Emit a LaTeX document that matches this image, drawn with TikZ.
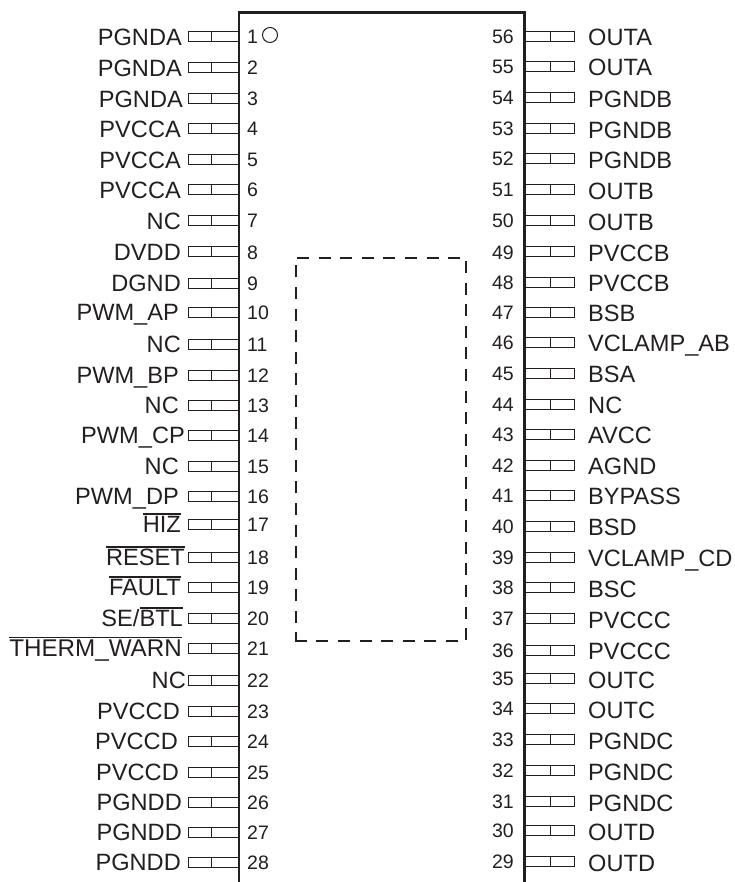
\documentclass[tikz,border=0pt]{standalone}
\usepackage{fontspec}
\setmainfont{Liberation Sans}
\definecolor{ink}{HTML}{231F20}
\newcommand\ovl[1]{\leavevmode\vbox{\hrule height 1.9pt\kern 1.4pt\hbox{#1}}}
\tikzset{
  pinbox/.style={draw=ink,line width=1pt,fill=white},
  chipline/.style={draw=ink,line width=2.2pt},
  padline/.style={draw=ink,line width=2.6pt,dash pattern=on 12pt off 9.6pt},
  padcorner/.style={draw=ink,line width=2.6pt},
  pinname/.style={inner sep=0pt,text=ink,font=\fontsize{23.6}{25}\selectfont},
  pinnum/.style={inner sep=0pt,text=ink,font=\fontsize{19.5}{21}\selectfont},
}
\begin{document}
\begin{tikzpicture}[x=1pt,y=-1pt]
\useasboundingbox (0,0) rectangle (735,882);
% left pins: number / pin y / label right edge / label
\foreach \n/\py/\lx/\t in {
 1/37/182/PGNDA, 2/68/182/PGNDA, 3/99/183/PGNDA, 4/129/181/PVCCA,
 5/160/181/PVCCA, 6/190/181/PVCCA, 7/221/181/NC, 8/252/181/DVDD,
 9/283/181/DGND, 10/312/179/PWM\_AP, 11/344/181/NC, 12/375/179/PWM\_BP,
 13/405/179/NC, 14/435/185/PWM\_CP, 15/466/179/NC, 16/496/179/PWM\_DP,
 17/524/181/\ovl{HIZ}, 18/557/185/\ovl{RESET}, 19/587/181/\ovl{FAULT}, 20/618/183/{SE/\ovl{BTL}},
 21/648/182/\ovl{\fontsize{24.2}{25}\selectfont THERM\_WARN}, 22/680/186/NC, 23/711/180/PVCCD, 24/741/178/PVCCD,
 25/772/179/PVCCD, 26/802/182/PGNDD, 27/832/182/PGNDD, 28/862/181/PGNDD}{
  \draw[pinbox] (188,\py-5) rectangle (239,\py+5);
  \draw[pinbox] (211,\py-5) -- (211,\py+5);
  \node[pinname,anchor=base east] (l\n) at (\lx,\py+8.5) {\t};
  \node[pinnum,anchor=base west] (nl\n) at (247,\py+7) {\n};
}
% right pins: number / pin y / label y / label
\foreach \n/\py/\ty/\t in {
 56/37/37/OUTA, 55/67/67/OUTA, 54/98/99/PGNDB, 53/129/130/PGNDB,
 52/159/160/PGNDB, 51/190/191/OUTB, 50/221/222/OUTB, 49/252/253/PVCCB,
 48/282/283/PVCCB, 47/312/313/BSB, 46/342/343/VCLAMP\_AB, 45/373/374/BSA,
 44/404/405/NC, 43/434/435/AVCC, 42/465/466/AGND, 41/495/496/BYPASS,
 40/526/527/BSD, 39/557/558/VCLAMP\_CD, 38/587/589/BSC, 37/618/620/PVCCC,
 36/650/651/PVCCC, 35/678/680/OUTC, 34/708/710/OUTC, 33/739/741/PGNDC,
 32/770/772/PGNDC, 31/801/803/PGNDC, 30/830/832/OUTD, 29/861/863/OUTD}{
  \draw[pinbox] (525,\py-5) rectangle (574,\py+5);
  \draw[pinbox] (550,\py-5) -- (550,\py+5);
  \node[pinname,anchor=base west] (r\n) at (588,\ty+8.5) {\t};
  \node[pinnum,anchor=base east] (nr\n) at (514,\py+7) {\n};
}
% package outline, open at the bottom
\draw[chipline] (239,882) -- (239,12.5) -- (524.5,12.5) -- (524.5,882);
% pin 1 mark
\draw[draw=ink,line width=1pt] (270,35) circle[radius=7.5];
% thermal pad
\draw[padline] (297,258) -- (461,258);
\draw[padline] (466,261) -- (466,640);
\draw[padline] (458,641) -- (316,641);
\draw[padcorner] (307,641) -- (296,641) -- (296,632);
\draw[padline] (296,623) -- (296,265);
\end{tikzpicture}
\end{document}
